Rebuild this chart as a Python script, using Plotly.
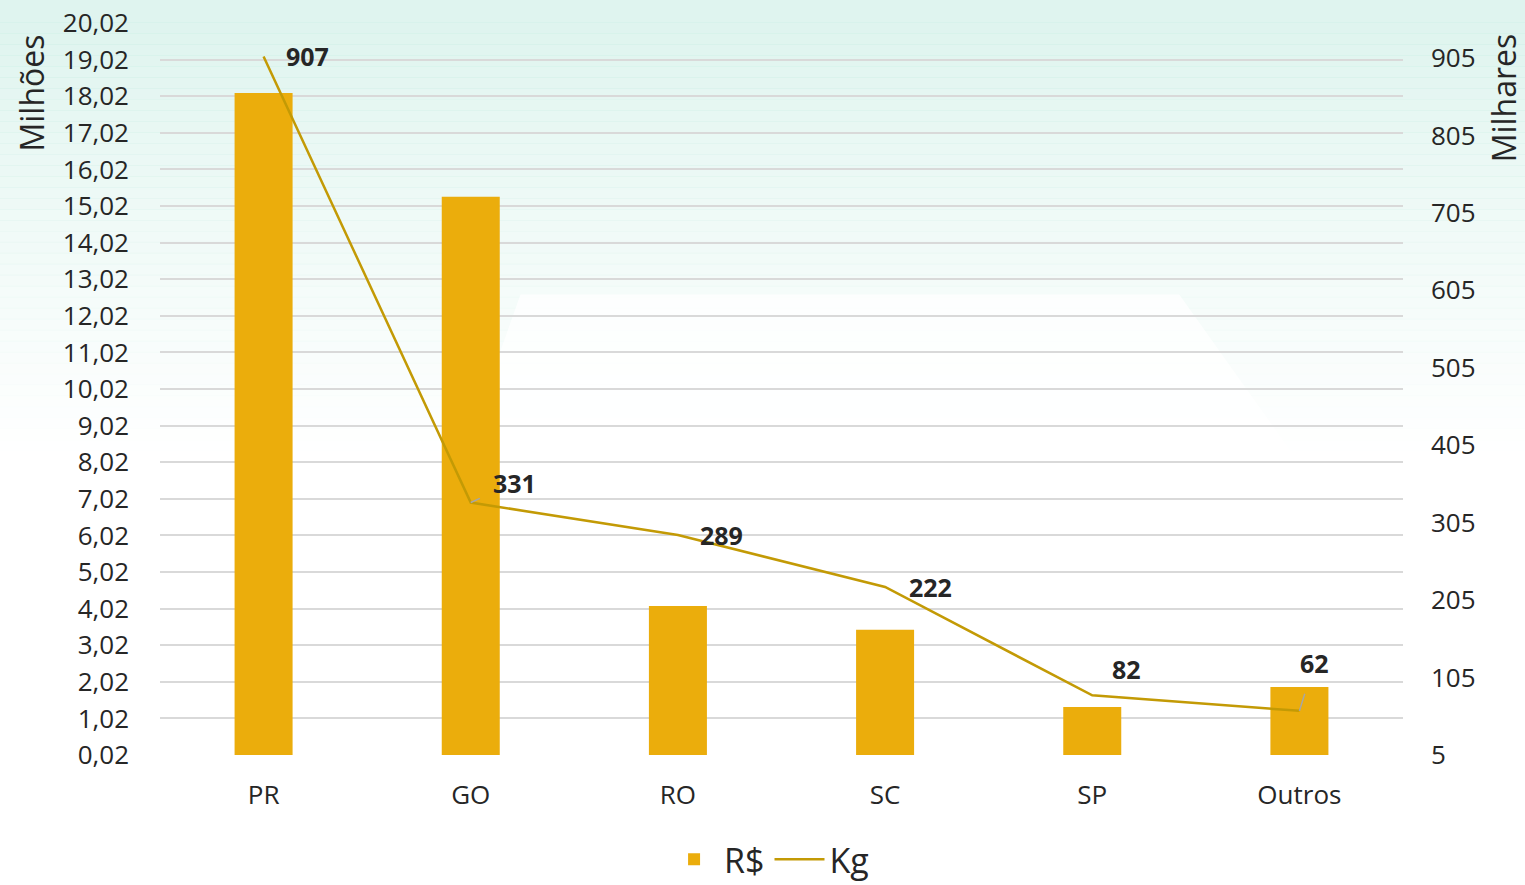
import plotly.graph_objects as go

categories = ["PR", "GO", "RO", "SC", "SP", "Outros"]
valores_rs = [18.11, 15.27, 4.09, 3.44, 1.33, 1.88]   # milhões
valores_kg = [907, 331, 289, 222, 82, 62]            # milhares
left_ticks = [i + 0.02 for i in range(21)]
right_ticks = [5 + 100 * i for i in range(10)]

W, H = 1525, 885
FONT = "Open Sans"
BAR = "#EBAD0C"
LINE = "#C39A05"
TXT = "#262626"

fig = go.Figure()
fig.add_trace(go.Bar(x=categories, y=valores_rs, name="R$", marker=dict(color=BAR, line=dict(width=0)),
                     width=0.28, yaxis="y"))
fig.add_trace(go.Scatter(x=categories, y=valores_kg, name="Kg", mode="lines",
                         line=dict(color=LINE, width=2.5), yaxis="y2"))

# background: mint fading to white
shapes = []
n = 40
for i in range(n):
    y1 = 1 - i / n * 0.6
    y0 = 1 - (i + 1) / n * 0.6
    a = 0.7 * (1 - i / n) ** 1.2
    shapes.append(dict(type="rect", xref="paper", yref="paper", x0=-0.2, x1=1.2, y0=y0, y1=y1 + 0.001,
                       fillcolor=f"rgba(210,240,232,{a:.3f})", line=dict(width=0), layer="below"))
shapes.append(dict(type="rect", xref="paper", yref="paper", x0=-0.2, x1=1.2, y0=1, y1=1.1,
                   fillcolor="rgba(210,240,232,0.7)", line=dict(width=0), layer="below"))
# white central trapezoid
shapes.append(dict(type="path", xref="paper", yref="paper",
                   path="M 0.29,0.629 L 0.82,0.629 L 1.0,0.2 L 0.2,0.2 Z",
                   fillcolor="rgba(255,255,255,0.75)", line=dict(width=0), layer="below"))

# data labels
offsets = [(44, 0, False), (44, 20, True), (44, 0, False), (45, 0, False), (34, 26, False), (15, 48, True)]
annotations = []
for c, v, (dx, dy, arrow) in zip(categories, valores_kg, offsets):
    if arrow:
        annotations.append(dict(x=c, y=v, xref="x", yref="y2", text=f"<b>{v}</b>", showarrow=True,
                                ax=dx, ay=-dy, arrowhead=0, arrowwidth=1.5, arrowcolor="#A6A6A6",
                                standoff=0, startstandoff=13,
                                font=dict(family=FONT, size=25, color=TXT)))
    else:
        annotations.append(dict(x=c, y=v, xref="x", yref="y2", text=f"<b>{v}</b>", showarrow=False,
                                xshift=dx, yshift=dy,
                                font=dict(family=FONT, size=25, color=TXT)))
annotations.append(dict(text="Milhões", xref="paper", yref="paper", x=-0.103, y=0.905, textangle=-90,
                        xanchor="center", yanchor="middle",
                        showarrow=False, font=dict(family=FONT, size=32, color=TXT)))
annotations.append(dict(text="Milhares", xref="paper", yref="paper", x=1.081, y=0.898, textangle=-90,
                        xanchor="center", yanchor="middle",
                        showarrow=False, font=dict(family=FONT, size=32, color=TXT)))

fig.update_layout(
    width=W, height=H,
    margin=dict(l=160, r=122, t=23, b=130, autoexpand=False),
    paper_bgcolor="white", plot_bgcolor="rgba(0,0,0,0)",
    separators=",.",
    font=dict(family=FONT, color=TXT),
    shapes=shapes,
    annotations=annotations,
    showlegend=True,
    legend=dict(orientation="h", x=0.49, xanchor="center", y=-0.143, yanchor="middle",
                font=dict(family=FONT, size=34, color=TXT), bgcolor="rgba(0,0,0,0)",
                itemwidth=50),
    xaxis=dict(showgrid=False, showline=False, ticks="", tickfont=dict(size=26, family=FONT, color=TXT),
               range=[-0.5, 5.5], ticklabelstandoff=22),
    yaxis=dict(range=[0.02, 20.02], tickmode="array", tickvals=left_ticks, tickformat=".2f",
               showgrid=True, gridcolor="#D9D9D9", gridwidth=1.5, zeroline=False, showline=False,
               tickfont=dict(size=26, family=FONT, color=TXT), ticks="", ticklabelstandoff=30),
    yaxis2=dict(range=[5, 950.2], tickmode="array", tickvals=right_ticks, overlaying="y", side="right",
                showgrid=False, zeroline=False, showline=False,
                tickfont=dict(size=26, family=FONT, color=TXT), ticks="", ticklabelstandoff=27),
    bargap=0.72,
)

fig.write_html("out.html", config={"displayModeBar": False},
               post_script="document.body.style.margin='0';document.body.style.overflow='hidden';")
